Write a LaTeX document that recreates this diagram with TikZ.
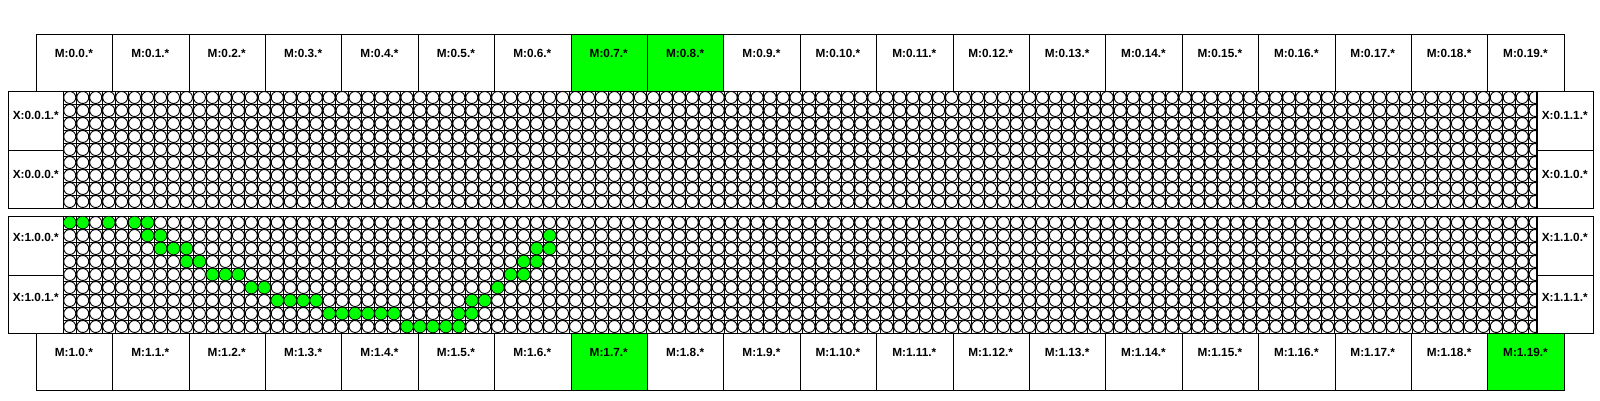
\documentclass[tikz,border=0pt]{standalone}
\usepackage{fontspec}
\setmainfont{Liberation Sans}
\definecolor{hitgreen}{RGB}{0,255,0}
\begin{document}
\begin{tikzpicture}[x=1pt,y=-1pt,
  mbox/.style={draw=black, line width=0.9pt, minimum width=76.4pt, minimum height=56.7pt, inner sep=0pt, anchor=north west},
  xbox/.style={draw=black, line width=0.9pt, minimum width=55pt, minimum height=58.5pt, inner sep=0pt, anchor=north west},
  lbl/.style={font=\bfseries\fontsize{11.8}{13}\selectfont, inner sep=0pt},
  gridln/.style={draw=black, line width=0.9pt},
  cell/.style={draw=black, line width=0.9pt, fill=white},
  hit/.style={draw=black, line width=0.6pt, fill=hitgreen}]
\useasboundingbox (0,0) rectangle (1600,400);
\fill[white] (0,0) rectangle (1600,400);
% ---------- top M boxes ----------
\foreach \i in {0,...,19}{
  \def\fc{white}
  \ifnum\i=7 \def\fc{hitgreen}\fi
  \ifnum\i=8 \def\fc{hitgreen}\fi
  \node[mbox, fill=\fc] (mt\i) at ({35.7+76.4*\i},34.3) {};
  \node[lbl] (mtl\i) at ({35.7+76.4*\i+38.2},53.3) {M:0.\i.*};
}
% ---------- bottom M boxes ----------
\foreach \i in {0,...,19}{
  \def\fc{white}
  \ifnum\i=7 \def\fc{hitgreen}\fi
  \ifnum\i=19 \def\fc{hitgreen}\fi
  \node[mbox, fill=\fc] (mb\i) at ({35.7+76.4*\i},333) {};
  \node[lbl] (mbl\i) at ({35.7+76.4*\i+38.2},352.6) {M:1.\i.*};
}
% ---------- X boxes ----------
\node[xbox] (xl01) at (8.3,91) {};
\node[xbox] (xl00) at (8.3,149.5) {};
\node[xbox, minimum width=56pt] (xr01) at (1536.7,91) {};
\node[xbox, minimum width=56pt] (xr00) at (1536.7,149.5) {};
\node[lbl] (xl01t) at (35.8,115.5) {X:0.0.1.*};
\node[lbl] (xl00t) at (35.8,174) {X:0.0.0.*};
\node[lbl] (xr01t) at (1564.7,115.5) {X:0.1.1.*};
\node[lbl] (xr00t) at (1564.7,174) {X:0.1.0.*};
\node[xbox] (xl10) at (8.3,216) {};
\node[xbox] (xl11) at (8.3,274.5) {};
\node[xbox, minimum width=56pt] (xr10) at (1536.7,216) {};
\node[xbox, minimum width=56pt] (xr11) at (1536.7,274.5) {};
\node[lbl] (xl10t) at (35.8,237.5) {X:1.0.0.*};
\node[lbl] (xl11t) at (35.8,297) {X:1.0.1.*};
\node[lbl] (xr10t) at (1564.7,237.5) {X:1.1.0.*};
\node[lbl] (xr11t) at (1564.7,297) {X:1.1.1.*};
% ---------- cell grids ----------
\foreach \yo in {91,216}{
  \begin{scope}
    \clip (63.3,\yo) rectangle (1536.7,\yo+117);
    \foreach \c in {0,...,114}{
      \draw[gridln] ({63.3+12.968*\c},\yo) -- ++(0,117);
    }
    \foreach \r in {0,...,9}{
      \draw[gridln] (63.3,{\yo+13*\r}) -- (1536.7,{\yo+13*\r});
    }
    \foreach \r in {0,...,8}{
      \foreach \c in {0,...,113}{
        \draw[cell] ({63.3+12.968*(\c+0.5)},{\yo+13*(\r+0.5)}) circle (6.0);
      }
    }
  \end{scope}
  \draw[line width=0.9pt] (63.3,\yo) rectangle (1536.7,\yo+117);
}
% ---------- highlighted cells ----------
\foreach \c/\r in {0/0,1/0,3/0,5/0,6/0,
  6/1,7/1,37/1,
  7/2,8/2,9/2,36/2,37/2,
  9/3,10/3,35/3,36/3,
  11/4,12/4,13/4,34/4,35/4,
  14/5,15/5,33/5,
  16/6,17/6,18/6,19/6,31/6,32/6,
  20/7,21/7,22/7,23/7,24/7,25/7,30/7,31/7,
  26/8,27/8,28/8,29/8,30/8}{
  \draw[hit] ({63.3+12.968*(\c+0.5)},{216+13*(\r+0.5)}) circle (6.3);
}
\end{tikzpicture}
\end{document}
